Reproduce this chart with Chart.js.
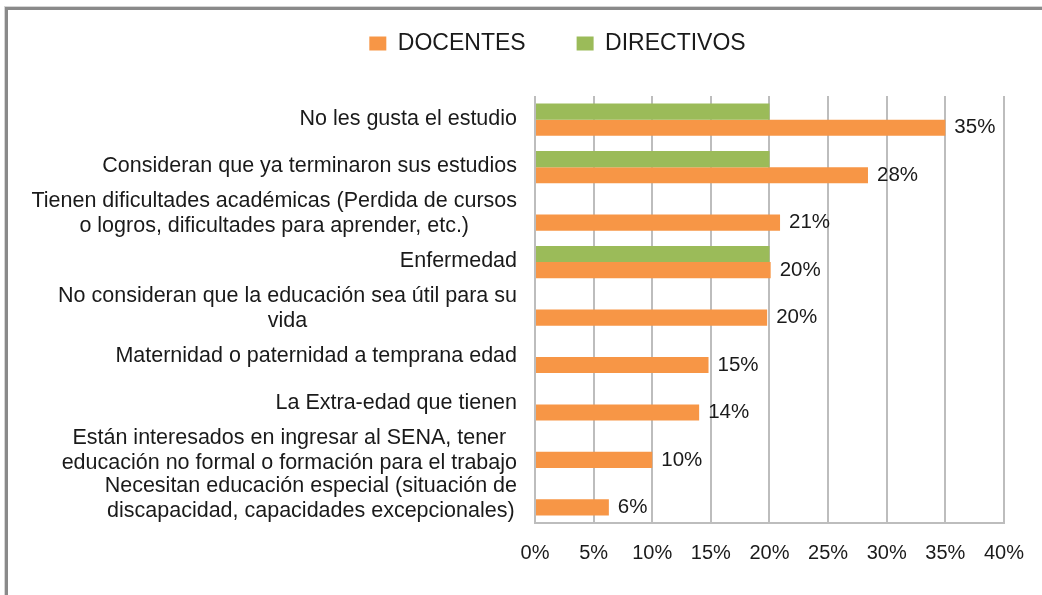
<!DOCTYPE html>
<html>
<head>
<meta charset="utf-8">
<script src="https://cdn.jsdelivr.net/npm/chart.js@4.4.1/dist/chart.umd.min.js"></script>
<style>
  html, body { margin: 0; padding: 0; background: #fff; overflow: hidden; }
  body { width: 1042px; height: 595px; position: relative; }
  .frame {
    position: absolute; left: 5px; top: 7px; right: -10px; bottom: -10px;
    border-left: 3px solid #8a8a8a; border-top: 3px solid #8a8a8a;
    box-shadow: -1px -1px 0 #d6d6d6;
  }
  .chart-ct { position: absolute; left: 0; top: -19px; width: 1042px; height: 614px; }
</style>
</head>
<body>
<div class="frame"></div>
<div class="chart-ct"><canvas id="causas"></canvas></div>
<script>
const categories = [
  ['No les gusta el estudio'],
  ['Consideran que ya terminaron sus estudios'],
  ['Tienen dificultades académicas (Perdida de cursos', 'o logros, dificultades para aprender, etc.)'],
  ['Enfermedad'],
  ['No consideran que la educación sea útil para su', 'vida'],
  ['Maternidad o paternidad a temprana edad'],
  ['La Extra-edad que tienen'],
  ['Están interesados en ingresar al SENA, tener', 'educación no formal o formación para el trabajo'],
  ['Necesitan educación especial (situación de', 'discapacidad, capacidades excepcionales)']
];
const docentes = [35, 28.4, 20.9, 20.1, 19.8, 14.8, 14, 10, 6.3];
const directivos = [20, 20, null, 20, null, null, null, null, null];
const xTickLabels = ['0%', '5%', '10%', '15%', '20%', '25%', '30%', '35%', '40%'];
const valueLabels = docentes.map(v => Math.round(v) + '%');

const textColor = '#1a1a1a';
const gridColor = '#bdbdbd';
const family = '"Liberation Sans", Arial, sans-serif';

// push the plot down under the legend
const legendGap = {
  id: 'legendGap',
  beforeInit(chart) {
    if (!chart.legend) return;
    const fit = chart.legend.fit;
    chart.legend.fit = function () {
      fit.call(this);
      this.height += 31;
    };
  }
};

// category labels: block right aligned, lines centered (like excel)
const categoryLabels = {
  id: 'categoryLabels',
  afterDraw(chart) {
    const ctx = chart.ctx;
    const y = chart.scales.y;
    const right = chart.chartArea.left - 18;
    const lh = 25;
    ctx.save();
    ctx.font = '21.5px ' + family;
    ctx.fillStyle = textColor;
    ctx.textAlign = 'center';
    ctx.textBaseline = 'middle';
    categories.forEach((lines, i) => {
      const py = y.getPixelForTick(i) - 1;
      const w = Math.max(...lines.map(l => ctx.measureText(l).width));
      lines.forEach((line, j) => {
        ctx.fillText(line, right - w / 2, py + (j - (lines.length - 1) / 2) * lh);
      });
    });
    ctx.restore();
  }
};

// value labels after the DOCENTES bars
const valueLabelPlugin = {
  id: 'valueLabels',
  afterDatasetsDraw(chart) {
    const ctx = chart.ctx;
    const meta = chart.getDatasetMeta(1);
    ctx.save();
    ctx.font = '20.5px ' + family;
    ctx.fillStyle = textColor;
    ctx.textAlign = 'left';
    ctx.textBaseline = 'middle';
    meta.data.forEach((bar, i) => {
      ctx.fillText(valueLabels[i], bar.x + 9, bar.y);
    });
    ctx.restore();
  }
};

const ctx = document.getElementById('causas').getContext('2d');
const causasChart = new Chart(ctx, {
  type: 'bar',
  data: {
    labels: categories,
    datasets: [{
      label: 'DIRECTIVOS',
      data: directivos,
      backgroundColor: '#9BBB59',
      borderWidth: 0,
      categoryPercentage: 0.68,
      barPercentage: 1
    }, {
      label: 'DOCENTES',
      data: docentes,
      backgroundColor: '#F79646',
      borderWidth: 0,
      categoryPercentage: 0.68,
      barPercentage: 1
    }]
  },
  options: {
    indexAxis: 'y',
    responsive: true,
    maintainAspectRatio: false,
    animation: false,
    layout: { padding: { top: 0, left: 110, right: 37, bottom: 12 } },
    plugins: {
      tooltip: { enabled: false },
      legend: {
        position: 'top',
        labels: {
          font: { family: family, size: 23 },
          color: textColor,
          boxWidth: 17,
          boxHeight: 14,
          padding: 51,
          sort: (a, b) => b.datasetIndex - a.datasetIndex
        }
      }
    },
    scales: {
      x: {
        type: 'linear',
        min: 0,
        max: 40,
        grid: { color: gridColor, lineWidth: 2, drawTicks: false },
        border: { color: gridColor, width: 2 },
        ticks: {
          stepSize: 5,
          padding: 18,
          color: textColor,
          font: { family: family, size: 20 },
          callback: (v, i) => xTickLabels[i]
        }
      },
      y: {
        grid: { display: false },
        border: { display: false },
        ticks: { display: false },
        afterFit: (scale) => { scale.width = 425; }
      }
    }
  },
  plugins: [legendGap, categoryLabels, valueLabelPlugin]
});
</script>
</body>
</html>
